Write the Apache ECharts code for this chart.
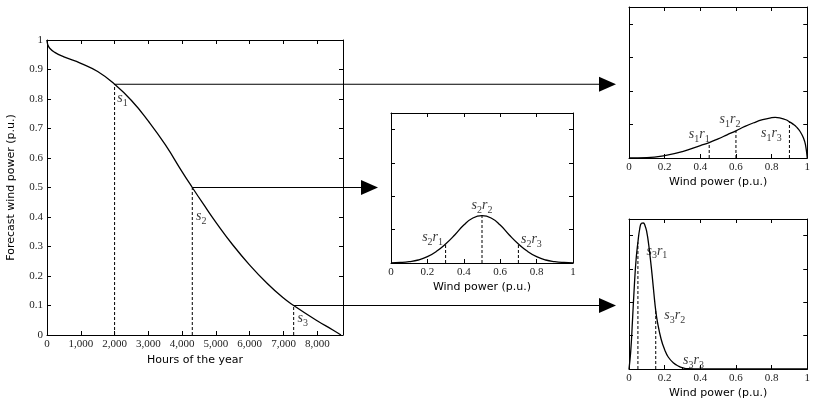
<!DOCTYPE html>
<html>
<head>
<meta charset="utf-8">
<script src="https://cdn.jsdelivr.net/npm/echarts@6/dist/echarts.min.js"></script>
<style>
  html, body { margin: 0; padding: 0; background: #fff; }
  #chart { width: 813px; height: 400px; }
</style>
</head>
<body>
<div id="chart"></div>
<script>
// duration curve of the forecast wind power
var hours = [0, 20, 80, 230, 500, 1000, 1500, 2000, 2500, 3000, 3500, 4000, 4300, 4620, 5010, 5500, 6000, 6490, 6980, 7300, 7970, 8460, 8700]
var power = [1.0, 0.985, 0.972, 0.958, 0.943, 0.921, 0.893, 0.85, 0.795, 0.725, 0.645, 0.553, 0.5, 0.445, 0.38, 0.305, 0.237, 0.178, 0.127, 0.1, 0.05, 0.017, 0]

// chosen scenarios s1, s2, s3
var sHours = [2000, 4300, 7300]
var sPower = [0.85, 0.5, 0.1]

// wind power distributions for s1, s2, s3
var windX1 = [0, 0.1, 0.2, 0.3, 0.4, 0.45, 0.5, 0.55, 0.6, 0.65, 0.7, 0.75, 0.8, 0.82, 0.85, 0.88, 0.9, 0.92, 0.94, 0.96, 0.98, 0.99, 1]
var dens1 = [0, 0.01, 0.07, 0.19, 0.37, 0.46, 0.57, 0.69, 0.81, 0.94, 1.05, 1.14, 1.2, 1.21, 1.19, 1.14, 1.08, 1.01, 0.92, 0.79, 0.58, 0.4, 0]
var windX2 = [0, 0.05, 0.1, 0.15, 0.2, 0.25, 0.3, 0.35, 0.4, 0.45, 0.5, 0.55, 0.6, 0.65, 0.7, 0.75, 0.8, 0.85, 0.9, 0.95, 1]
var dens2 = [0.005, 0.015, 0.04, 0.09, 0.19, 0.35, 0.57, 0.84, 1.14, 1.35, 1.42, 1.35, 1.14, 0.84, 0.57, 0.35, 0.19, 0.09, 0.04, 0.015, 0.005]
var windX3 = [0, 0.01, 0.02, 0.03, 0.04, 0.05, 0.06, 0.07, 0.08, 0.09, 0.1, 0.11, 0.12, 0.13, 0.14, 0.15, 0.16, 0.18, 0.2, 0.22, 0.25, 0.28, 0.3, 0.33, 0.4, 1]
var dens3 = [0, 0.55, 1.5, 2.5, 3.3, 3.8, 4.2, 4.37, 4.38, 4.3, 4.1, 3.75, 3.3, 2.8, 2.25, 1.75, 1.4, 0.9, 0.58, 0.36, 0.18, 0.08, 0.04, 0.01, 0, 0]

// sub-scenarios r1, r2, r3 of each scenario
var rX = [[0.45, 0.6, 0.9], [0.3, 0.5, 0.7], [0.05, 0.15, 0.3]]
var rY = [[0.46, 0.81, 1.08], [0.57, 1.42, 0.57], [3.8, 1.75, 0.04]]

var xTickLabels = ['0', '1,000', '2,000', '3,000', '4,000', '5,000', '6,000', '7,000', '8,000']

// layout: grid 0 main, 1 middle (s2), 2 top right (s1), 3 bottom right (s3)
var grids = [
  { left: 47, top: 40, width: 296, height: 295 },
  { left: 391, top: 113, width: 182, height: 150 },
  { left: 629, top: 7, width: 182, height: 151 },
  { left: 629, top: 219, width: 182, height: 150 }
]
var sGrid = [2, 1, 3]
var sLabelOffset = [[8, 16], [9, 30], [9, 14]]
var rLabelOffset = [
  [[-10, -7], [-6, -10], [-18, 13]],
  [[-13, -5], [0, -9], [13, -3]],
  [[19, 10], [19, 6], [11, -6]]
]

var serif = 'Liberation Serif'
var sans = 'DejaVu Sans'
var rich = {
  v: { fontFamily: serif, fontStyle: 'italic', fontSize: 14, color: '#000', padding: [0, 0, 3, 0], verticalAlign: 'bottom' },
  n: { fontFamily: serif, fontSize: 10, color: '#000', verticalAlign: 'bottom' }
}

var axisLine = { onZero: false, lineStyle: { color: '#000', width: 1 } }
var axisTick = { inside: true, length: 4, lineStyle: { color: '#000', width: 1 } }

var xAxes = []
var yAxes = []
grids.forEach(function(g, gi) {
  var main = gi === 0
  ;['bottom', 'top'].forEach(function(pos) {
    xAxes.push({
      type: 'value', gridIndex: gi, position: pos,
      min: 0, max: main ? 8760 : 1, interval: main ? 1000 : 0.2,
      axisLine: axisLine, axisTick: axisTick, splitLine: { show: false },
      axisLabel: {
        show: pos === 'bottom', margin: 4, fontFamily: serif, fontSize: 11, color: '#222',
        formatter: main ? function(v) { return xTickLabels[v / 1000] || '' } : null
      },
      name: pos === 'bottom' ? (main ? 'Hours of the year' : 'Wind power (p.u.)') : '',
      nameLocation: 'middle', nameGap: main ? 16 : 19,
      nameTextStyle: { fontFamily: sans, fontSize: 11, color: '#000' }
    })
  })
  ;['left', 'right'].forEach(function(pos) {
    yAxes.push({
      type: 'value', gridIndex: gi, position: pos,
      min: 0, max: main ? 1 : 4.5, interval: main ? 0.1 : 1,
      axisLine: axisLine, axisTick: axisTick, splitLine: { show: false },
      axisLabel: { show: main && pos === 'left', margin: 4, fontFamily: serif, fontSize: 11, color: '#222' },
      name: main && pos === 'left' ? 'Forecast wind power (p.u.)' : '',
      nameLocation: 'middle', nameGap: 30,
      nameTextStyle: { fontFamily: sans, fontSize: 11, color: '#000' }
    })
  })
})

function zip(a, b) {
  return a.map(function(v, i) { return [v, b[i]] })
}
function dashed(gi, x, y) {
  return {
    type: 'line', xAxisIndex: gi * 2, yAxisIndex: gi * 2, symbol: 'none', silent: true,
    data: [[x, 0], [x, y]],
    lineStyle: { color: '#000', width: 1, type: [3, 2] }
  }
}
function curve(gi, xs, ys) {
  return {
    type: 'line', xAxisIndex: gi * 2, yAxisIndex: gi * 2, symbol: 'none', smooth: 0.5,
    data: zip(xs, ys), lineStyle: { color: '#000', width: 1.3 }
  }
}
function labels(gi, items) {
  return {
    type: 'scatter', xAxisIndex: gi * 2, yAxisIndex: gi * 2, symbolSize: 1,
    itemStyle: { color: 'rgba(0,0,0,0)' }, silent: true, z: 5,
    data: items.map(function(it) {
      return { value: it.value, label: { show: true, position: 'inside', formatter: it.text, offset: it.offset, rich: rich } }
    })
  }
}

var series = [curve(0, hours, power)]
var mainLabels = []
var curves = [[windX1, dens1], [windX2, dens2], [windX3, dens3]]
for (var i = 0; i < 3; i++) {
  series.push(dashed(0, sHours[i], sPower[i]))
  mainLabels.push({ value: [sHours[i], sPower[i]], text: '{v|s}{n|' + (i + 1) + '}', offset: sLabelOffset[i] })
  var gi = sGrid[i]
  series.push(curve(gi, curves[i][0], curves[i][1]))
  var rl = []
  for (var j = 0; j < 3; j++) {
    series.push(dashed(gi, rX[i][j], rY[i][j]))
    rl.push({ value: [rX[i][j], rY[i][j]], text: '{v|s}{n|' + (i + 1) + '}{v|r}{n|' + (j + 1) + '}', offset: rLabelOffset[i][j] })
  }
  series.push(labels(gi, rl))
}
series.push(labels(0, mainLabels))

var myChart = echarts.init(document.getElementById('chart'))
myChart.setOption({
  animation: false,
  backgroundColor: '#fff',
  grid: grids,
  xAxis: xAxes,
  yAxis: yAxes,
  series: series
})

// arrows from each scenario point to its distribution plot
var arrows = []
for (var k = 0; k < 3; k++) {
  var p = myChart.convertToPixel({ gridIndex: 0 }, [sHours[k], sPower[k]])
  var tip = myChart.convertToPixel({ xAxisIndex: sGrid[k] * 2 }, 0) - 13
  arrows.push({
    type: 'line', silent: true,
    shape: { x1: p[0], y1: p[1], x2: tip - 15, y2: p[1] },
    style: { stroke: '#000', lineWidth: 1 }
  })
  arrows.push({
    type: 'polygon', silent: true,
    shape: { points: [[tip, p[1]], [tip - 17, p[1] - 7.5], [tip - 17, p[1] + 7.5]] },
    style: { fill: '#000' }
  })
}
myChart.setOption({ graphic: arrows })
</script>
</body>
</html>
